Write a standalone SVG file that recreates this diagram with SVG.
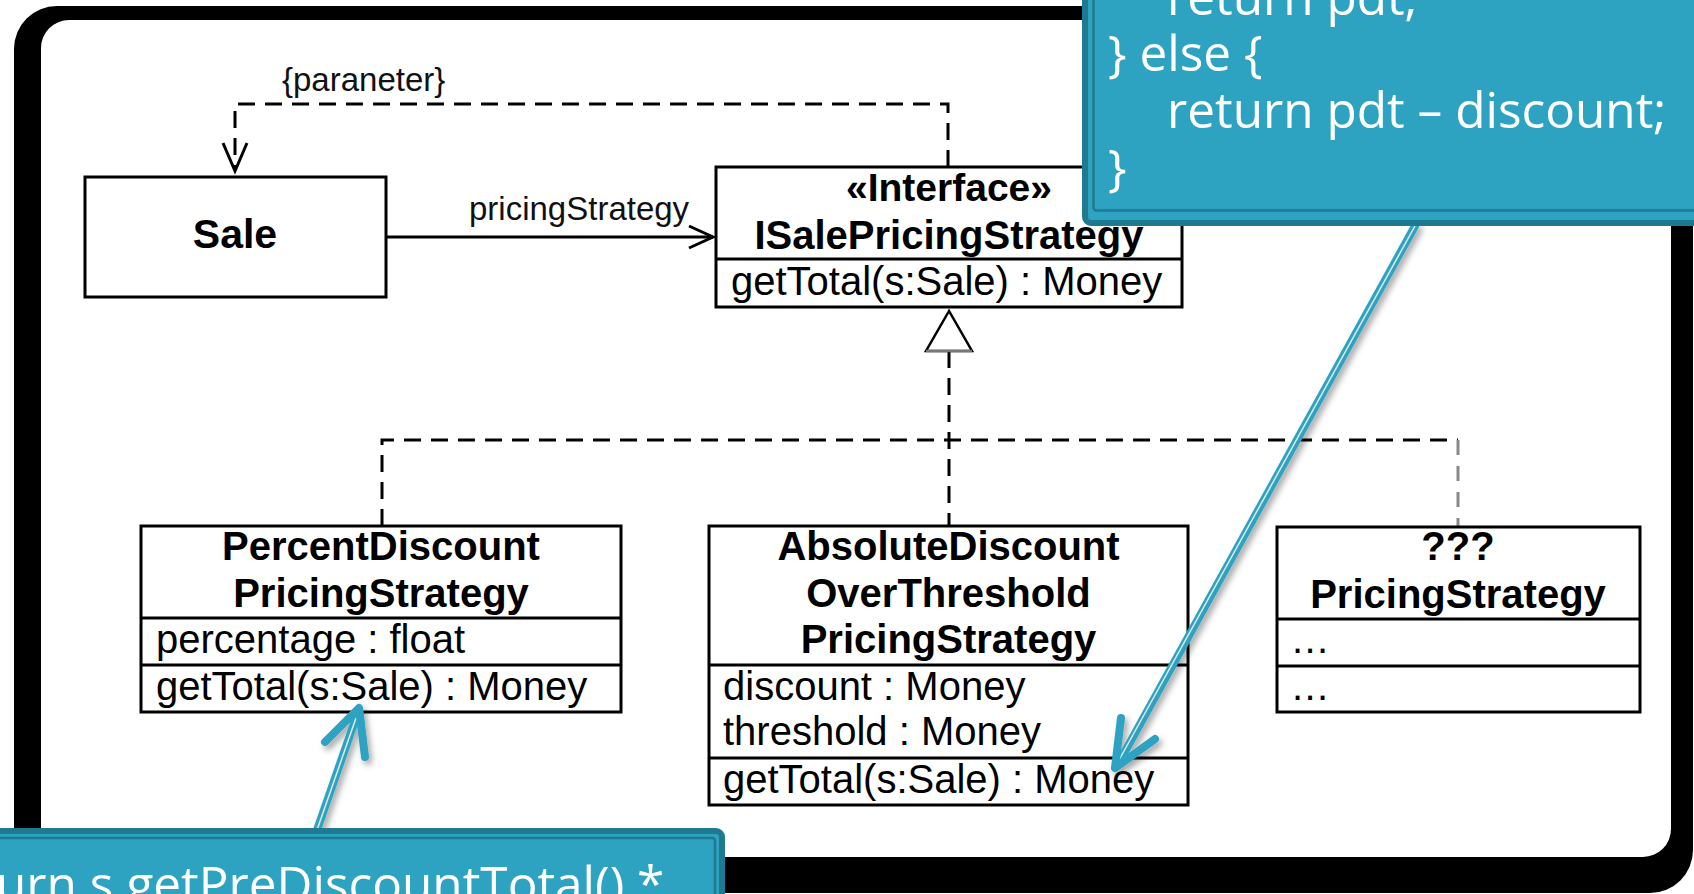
<svg xmlns="http://www.w3.org/2000/svg" width="1694" height="894" viewBox="0 0 1694 894">
<defs>
<style>
.box{fill:#fff;stroke:#000;stroke-width:3}
.dv{stroke:#000;stroke-width:3}
.t{font-family:"Liberation Sans",Arial,sans-serif;font-size:40px;fill:#000}
.b{font-weight:bold}
.c{text-anchor:middle}
.lbl{font-family:"Liberation Sans",Arial,sans-serif;font-size:33px;fill:#111}
.dash{fill:none;stroke:#000;stroke-width:3;stroke-dasharray:17 10}
.gdash{fill:none;stroke:#8a8a8a;stroke-width:3;stroke-dasharray:15 11}
.ln{fill:none;stroke:#000;stroke-width:3}
.note{fill:#2EA3C1;stroke:#1F7A8F;stroke-width:6}
.noteIn{fill:none;stroke:#1F7A8F;stroke-width:2.5}
.code{font-family:"Open Sans","Noto Sans",sans-serif;font-size:49.5px;fill:#fff}
.ptr{fill:none;stroke:#2EA3C1;stroke-width:8;stroke-linecap:round;stroke-linejoin:round}
.ptrIn{fill:none;stroke:#dfeaec;stroke-width:1.5}
</style>
<filter id="sh" x="-20%" y="-20%" width="140%" height="140%">
<feDropShadow dx="3" dy="4" stdDeviation="3" flood-color="#000" flood-opacity="0.35"/>
</filter>
</defs>

<rect x="0" y="0" width="1694" height="894" fill="#fff"/>
<g id="frame">
<path fill="#000" fill-rule="evenodd" d="M57,6 H1650 A43,43 0 0 1 1693,49 V850 A43,43 0 0 1 1650,893 H57 A43,43 0 0 1 14,850 V49 A43,43 0 0 1 57,6 Z M69,20 H1643 A28,28 0 0 1 1671,48 V829 A28,28 0 0 1 1643,857 H69 A28,28 0 0 1 41,829 V48 A28,28 0 0 1 69,20 Z"/>
</g>

<g id="connectors">
<line class="ln" x1="386" y1="237" x2="713" y2="237"/>
<polyline class="ln" points="689,226 713,237 689,248"/>
<text class="lbl" x="469" y="220">pricingStrategy</text>
<path class="dash" d="M948,167 V104 H235 V170"/>
<polyline class="ln" points="223,143 235,171 247,143"/>
<text class="lbl" x="282" y="91">{paraneter}</text>
<path class="dash" d="M949,351 V526"/>
<path class="dash" d="M382,526 V440 H1458"/>
<path class="gdash" d="M1458,440 V527"/>
<polygon points="949,311 926,351 972,351" fill="#fff" stroke="#000" stroke-width="2.5"/>
<line x1="926" y1="351" x2="972" y2="351" stroke="#777" stroke-width="2.5"/>
</g>

<g id="sale">
<rect class="box" x="85" y="177" width="301" height="120"/>
<text class="t b c" x="235" y="248" style="font-size:41px">Sale</text>
</g>

<g id="isalepricingstrategy">
<rect class="box" x="716" y="167" width="466" height="140"/>
<line class="dv" x1="716" y1="259" x2="1182" y2="259"/>
<text class="t b c" x="949" y="201" style="font-size:39px">«Interface»</text>
<text class="t b c" x="949" y="249">ISalePricingStrategy</text>
<text class="t" x="731" y="295">getTotal(s:Sale) : Money</text>
</g>

<g id="percentdiscount">
<rect class="box" x="141" y="526" width="480" height="186"/>
<line class="dv" x1="141" y1="618" x2="621" y2="618"/>
<line class="dv" x1="141" y1="665" x2="621" y2="665"/>
<text class="t b c" x="381" y="560">PercentDiscount</text>
<text class="t b c" x="381" y="607">PricingStrategy</text>
<text class="t" x="156" y="653">percentage : float</text>
<text class="t" x="156" y="700">getTotal(s:Sale) : Money</text>
</g>

<g id="absolutediscount">
<rect class="box" x="709" y="526" width="479" height="279"/>
<line class="dv" x1="709" y1="665" x2="1188" y2="665"/>
<line class="dv" x1="709" y1="758" x2="1188" y2="758"/>
<text class="t b c" x="948.5" y="560">AbsoluteDiscount</text>
<text class="t b c" x="948.5" y="607">OverThreshold</text>
<text class="t b c" x="948.5" y="653">PricingStrategy</text>
<text class="t" x="723" y="700">discount : Money</text>
<text class="t" x="723" y="745">threshold : Money</text>
<text class="t" x="723" y="793">getTotal(s:Sale) : Money</text>
</g>

<g id="unknownpricing">
<rect class="box" x="1277" y="527" width="363" height="185"/>
<line class="dv" x1="1277" y1="619" x2="1640" y2="619"/>
<line class="dv" x1="1277" y1="666" x2="1640" y2="666"/>
<text class="t b c" x="1458" y="560">???</text>
<text class="t b c" x="1458" y="608">PricingStrategy</text>
<text class="t" x="1292" y="653" textLength="36" lengthAdjust="spacing">...</text>
<text class="t" x="1292" y="700" textLength="36" lengthAdjust="spacing">...</text>
</g>

<g id="note-pointers" filter="url(#sh)">
<line class="ptr" x1="1415" y1="226" x2="1117" y2="766"/>
<line class="ptrIn" x1="1415" y1="226" x2="1119" y2="760"/>
<polyline class="ptr" points="1121,718 1115,768 1155,739"/>
<line class="ptr" x1="317" y1="830" x2="358" y2="712"/>
<line class="ptrIn" x1="317" y1="830" x2="356" y2="718"/>
<polyline class="ptr" points="325,742 359,708 365,757"/>
</g>

<g id="note-top">
<rect class="note" x="1085" y="-30" width="640" height="253" rx="6"/>
<rect class="noteIn" x="1093.5" y="-30" width="640" height="240.5" rx="3"/>
<text class="code" x="1167" y="15">return pdt;</text>
<text class="code" x="1108" y="71">} else {</text>
<text class="code" x="1167" y="128">return pdt – discount;</text>
<text class="code" x="1108" y="185">}</text>
</g>

<g id="note-bottom">
<rect class="note" x="-30" y="831" width="752" height="100" rx="6"/>
<rect class="noteIn" x="-30" y="838" width="745" height="100" rx="3"/>
<text class="code" x="-4" y="902">urn s.getPreDiscountTotal() *</text>
</g>
</svg>
